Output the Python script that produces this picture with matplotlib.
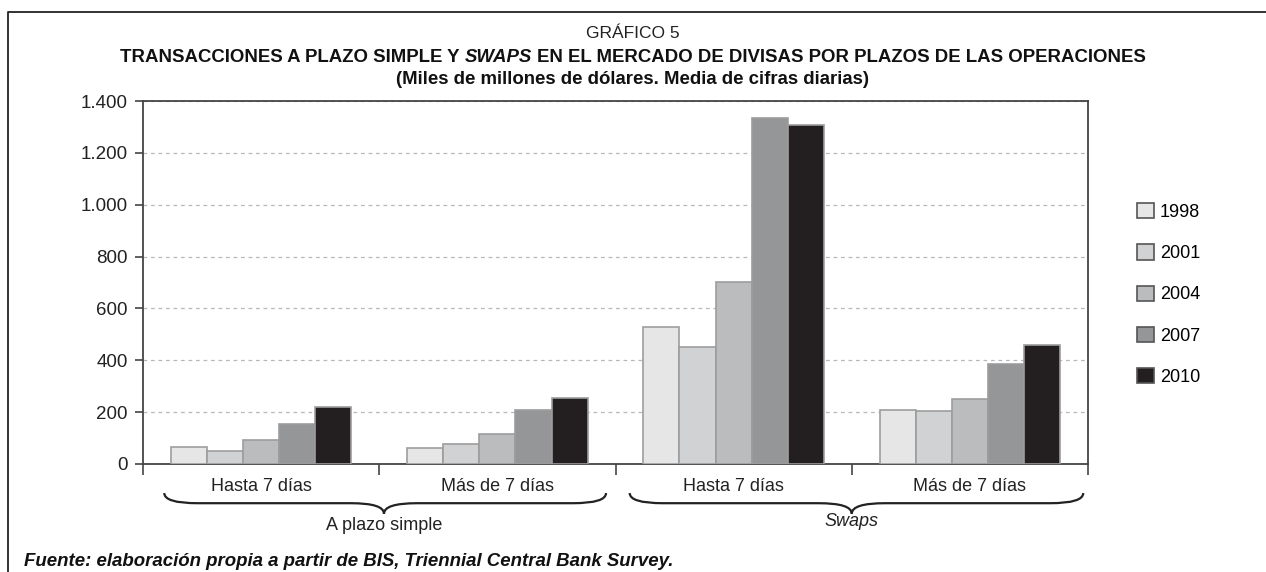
import numpy as np
import matplotlib.pyplot as plt
import matplotlib.transforms as mtransforms
from matplotlib.path import Path
from matplotlib.patches import PathPatch
from matplotlib.lines import Line2D
from matplotlib.ticker import FuncFormatter

plt.rcParams['font.family'] = ['Liberation Sans', 'DejaVu Sans']

years = ['1998', '2001', '2004', '2007', '2010']
plazos = ['Hasta 7 días', 'Más de 7 días', 'Hasta 7 días', 'Más de 7 días']
tipos = ['A plazo simple', 'Swaps']

# miles de millones de dólares, media de cifras diarias
v1998 = [65, 62, 528, 207]
v2001 = [51, 79, 451, 204]
v2004 = [93, 116, 702, 252]
v2007 = [155, 210, 1333, 384]
v2010 = [220, 256, 1307, 458]
series = [v1998, v2001, v2004, v2007, v2010]
colores = ['#e6e6e6', '#d1d2d4', '#bbbcbe', '#959698', '#231f20']

W, H = 1266, 572
fig = plt.figure(figsize=(W / 100, H / 100), dpi=100)
ax = fig.add_axes([143 / W, 1 - 464 / H, 945 / W, 363 / H])

x = np.arange(len(plazos))
w = 0.153
for i, (vals, c) in enumerate(zip(series, colores)):
    ax.bar(x + 0.5 + (i - 2) * w, vals, w, color=c, edgecolor='#9d9d9d',
           linewidth=1.2, label=years[i], zorder=3)

ax.set_xlim(0, 4)
ax.set_ylim(0, 1400)
ax.set_yticks(range(0, 1401, 200))
ax.yaxis.set_major_formatter(FuncFormatter(lambda v, p: f'{v:,.0f}'.replace(',', '.')))
ax.grid(axis='y', color='#b8b8b8', linestyle=(0, (3, 3)), linewidth=0.9, zorder=0)

ax.set_xticks(range(5))
ax.set_xticklabels([])
ax.set_xticks(x + 0.5, minor=True)
ax.set_xticklabels(plazos, minor=True)
ax.tick_params(axis='x', which='major', length=8, width=1.2, color='#444')
ax.tick_params(axis='x', which='minor', length=0, pad=10, labelsize=13, labelcolor='#222')
ax.tick_params(axis='y', length=6, width=1.2, color='#444', pad=5, labelsize=13.5, labelcolor='#222')
for s in ax.spines.values():
    s.set_color('#444')
    s.set_linewidth(1.3)

# llaves bajo cada tipo de operación
trans = mtransforms.blended_transform_factory(ax.transData, ax.transAxes)


def llave(x0, x1, xc, yt=-0.080, ym=-0.108, yb=-0.137, r=0.14):
    verts = [(x0, yt), (x0, ym), (x0 + r, ym),
             (xc - r, ym),
             (xc, ym), (xc, yb),
             (xc, ym), (xc + r, ym),
             (x1 - r, ym),
             (x1, ym), (x1, yt)]
    codes = [Path.MOVETO, Path.CURVE3, Path.CURVE3,
             Path.LINETO,
             Path.CURVE3, Path.CURVE3,
             Path.CURVE3, Path.CURVE3,
             Path.LINETO,
             Path.CURVE3, Path.CURVE3]
    ax.add_patch(PathPatch(Path(verts, codes), facecolor='none', edgecolor='#222',
                           linewidth=1.6, transform=trans, clip_on=False))


llave(0.09, 1.96, 1.02)
llave(2.06, 3.98, 3.0)
ax.text(1.02, -0.170, tipos[0], transform=trans, ha='center', va='center',
        fontsize=13, color='#222')
ax.text(3.0, -0.158, tipos[1], transform=trans, ha='center', va='center',
        fontsize=13, style='italic', color='#222')

leg = ax.legend(loc='upper left', bbox_to_anchor=(1137 / W, 1 - 203 / H),
                bbox_transform=fig.transFigure, frameon=False, fontsize=13,
                handlelength=0.92, handleheight=0.92, handletextpad=0.35,
                labelspacing=1.3, borderpad=0, borderaxespad=0)
for p in leg.get_patches():
    p.set_edgecolor('#555')
    p.set_linewidth(1.2)

# títulos
fig.text(0.5, 1 - 33 / H, 'GRÁFICO 5', ha='center', va='center', fontsize=12.5, color='#222')
fs = 13.4
partes = [('TRANSACCIONES A PLAZO SIMPLE Y', 'normal'), ('SWAPS', 'italic'),
          ('EN EL MERCADO DE DIVISAS POR PLAZOS DE LAS OPERACIONES', 'normal')]
rend = fig.canvas.get_renderer()
textos = [fig.text(0, 1 - 58 / H, t, ha='left', va='center', fontsize=fs,
                   weight='bold', style=st, color='#111') for t, st in partes]
anchos = [t.get_window_extent(rend).width for t in textos]
hueco = 0.28 * fs * 100 / 72
total = sum(anchos) + hueco * (len(anchos) - 1)
xpos = (W - total) / 2
for t, a in zip(textos, anchos):
    t.set_x(xpos / W)
    xpos += a + hueco

fig.text(0.5, 1 - 80 / H, '(Miles de millones de dólares. Media de cifras diarias)',
         ha='center', va='center', fontsize=fs, weight='bold', color='#111')
fig.text(24 / W, 1 - 561 / H,
         'Fuente: elaboración propia a partir de BIS, Triennial Central Bank Survey.',
         ha='left', va='center', fontsize=fs, weight='bold', style='italic', color='#111')

# marco exterior
fig.add_artist(Line2D([8 / W, 8 / W, 1], [0, 1 - 12 / H, 1 - 12 / H],
                      transform=fig.transFigure, color='#222', linewidth=1.3))

fig.savefig('out.png', dpi=100)
